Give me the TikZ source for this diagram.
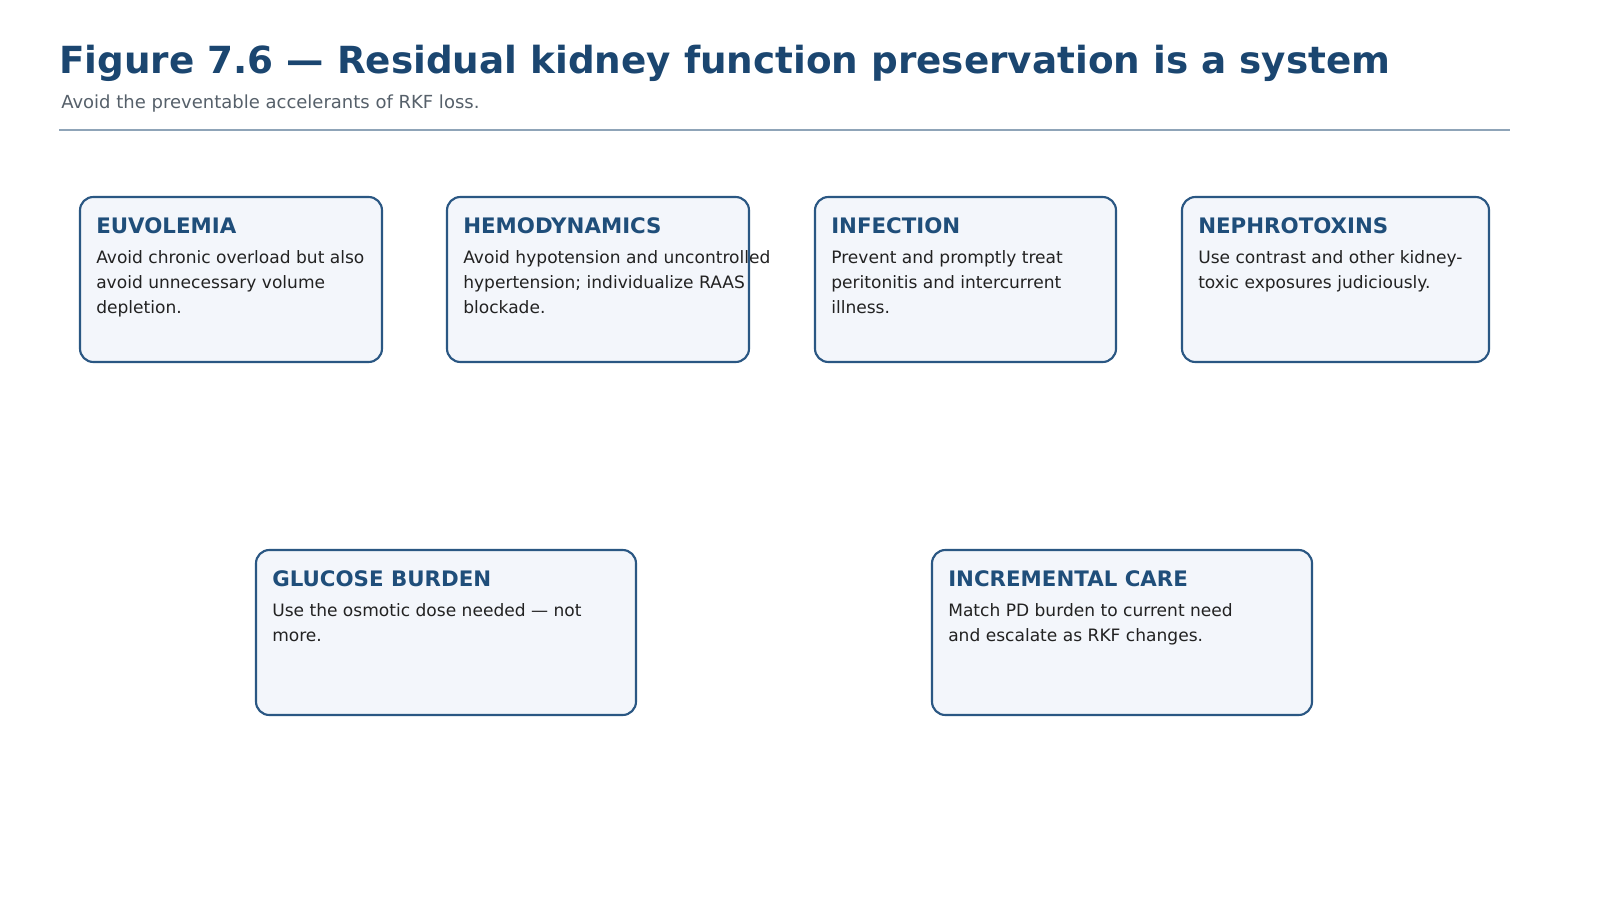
\documentclass[tikz,border=0pt]{standalone}
\usepackage{fontspec}
\setmainfont{DejaVu Sans}
\definecolor{ttl}{HTML}{1B4670}
\definecolor{hd}{HTML}{1F4E7A}
\definecolor{bd}{HTML}{2A5783}
\definecolor{bf}{HTML}{F3F6FB}
\definecolor{sub}{HTML}{56606A}
\definecolor{rule}{HTML}{8FA4B8}
\definecolor{txt}{HTML}{222222}
\begin{document}
\begin{tikzpicture}[x=0.75pt,y=-0.75pt,
  box/.style={draw=bd,line width=1.6pt,fill=bf,rounded corners=10pt},
  head/.style={anchor=base west,inner sep=0,font=\fontsize{16}{19}\selectfont\bfseries,text=hd},
  body/.style={anchor=north west,inner sep=0,align=left,font=\fontsize{12.8}{19}\selectfont,text=txt}]
\useasboundingbox (0,0) rectangle (1600,900);
\node[anchor=base west,inner sep=0,font=\fontsize{28}{32}\selectfont\bfseries,text=ttl] (title) at (59,73) {Figure 7.6 — Residual kidney function preservation is a system};
\node[anchor=base west,inner sep=0,font=\fontsize{13.5}{16}\selectfont,text=sub] (subt) at (61,108) {Avoid the preventable accelerants of RKF loss.};
\coordinate (r1) at (59,130); \coordinate (r2) at (1510,130);
\draw[rule,line width=1pt] (r1) -- (r2);
\newcommand\card[7]{%
  \draw[box] (#1,#2) rectangle (#3,#4);
  \node[head] (#5h) at (#1+16,#2+36) {#6};
  \node[body] (#5b) at (#1+16,#2+53) {#7};}
\card{80}{197}{382}{362}{a}{EUVOLEMIA}{Avoid chronic overload but also\\avoid unnecessary volume\\depletion.}
\card{447}{197}{749}{362}{b}{HEMODYNAMICS}{Avoid hypotension and uncontrolled\\hypertension; individualize RAAS\\blockade.}
\card{815}{197}{1116}{362}{c}{INFECTION}{Prevent and promptly treat\\peritonitis and intercurrent\\illness.}
\card{1182}{197}{1489}{362}{d}{NEPHROTOXINS}{Use contrast and other kidney-\\toxic exposures judiciously.}
\card{256}{550}{636}{715}{e}{GLUCOSE BURDEN}{Use the osmotic dose needed — not\\more.}
\card{932}{550}{1312}{715}{f}{INCREMENTAL CARE}{Match PD burden to current need\\and escalate as RKF changes.}
\end{tikzpicture}
\end{document}
